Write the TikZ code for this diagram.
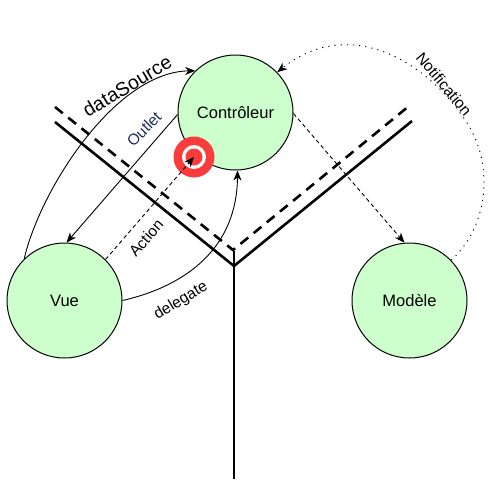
\documentclass[tikz,border=0pt]{standalone}
\usepackage{fontspec}
\setmainfont{Liberation Sans}
\usetikzlibrary{arrows.meta}
\definecolor{nodegreen}{HTML}{CCFFCC}
\definecolor{targetred}{HTML}{FA3C3C}
\definecolor{navylabel}{HTML}{1C2B5A}
\tikzset{
  mvc/.style={circle, draw=black, line width=1pt, fill=nodegreen, minimum size=115pt, inner sep=0pt,
    font=\fontsize{16.5}{19}\selectfont},
  link/.style={line width=0.9pt, -{Stealth[length=10pt,width=8pt,inset=3pt]}},
  finedash/.style={dash pattern=on 4pt off 3pt},
  dotline/.style={dash pattern=on 1.2pt off 5pt},
  wall/.style={line width=2.6pt},
  lbl/.style={font=\fontsize{15.5}{18}\selectfont, inner sep=0pt},
}
\begin{document}
\begin{tikzpicture}[x=1pt,y=-1pt]
\useasboundingbox (0,0) rectangle (494,504);

% walls
\coordinate (wl) at (55,122);
\coordinate (wv) at (234,266);
\coordinate (wr) at (412,121);
\coordinate (ws) at (234,479);
\coordinate (wt) at (234,251);
\coordinate (dl) at (55,107);
\coordinate (dv) at (233,250);
\coordinate (dr) at (409,106);
\draw[wall, dash pattern=on 10pt off 7pt] (dl) -- (dv) -- (dr);
\draw[wall] (wl) -- (wv) -- (wr);
\draw[wall] (wt) -- (ws);

% nodes
\node[mvc] (c) at (235.5,112.5) {Contrôleur};
\node[mvc] (v) at (64.5,300.5) {Vue};
\node[mvc] (m) at (409.5,300.5) {Modèle};

% target
\node[circle, fill=targetred, minimum size=41pt, inner sep=0pt] (t) at (194,157) {};
\node[circle, fill=white, minimum size=24pt, inner sep=0pt] (tw) at (t.center) {};
\node[circle, fill=targetred, minimum size=17pt, inner sep=0pt] (tr) at (t.center) {};

% connectors
\draw[link] (v.134) .. controls (40,190) and (115,72) .. (c.134);
\draw[link] (c.182) -- (v.88);
\draw[link, finedash] (v.45) -- (tr.center);
\draw[link] (v.0) .. controls (190,285) and (237,245) .. (c.-88);
\draw[link, finedash] (c.-1) -- (m.95);
\draw[link, dotline] (m.44) .. controls (490,225) and (495,160) .. (463,117)
   .. controls (420,55) and (345,18) .. (c.44);

% labels
\node[lbl, font=\fontsize{19.5}{22}\selectfont, rotate=31] (ldata) at (127,86) {dataSource};
\node[lbl, rotate=45, text=navylabel] (lout) at (144,129) {Outlet};
\node[lbl, rotate=49] (lact) at (146,238) {Action};
\node[lbl, rotate=31] (ldel) at (181,301) {delegate};
\node[lbl, rotate=-50] (lnot) at (444,84) {Notification};
\end{tikzpicture}
\end{document}
